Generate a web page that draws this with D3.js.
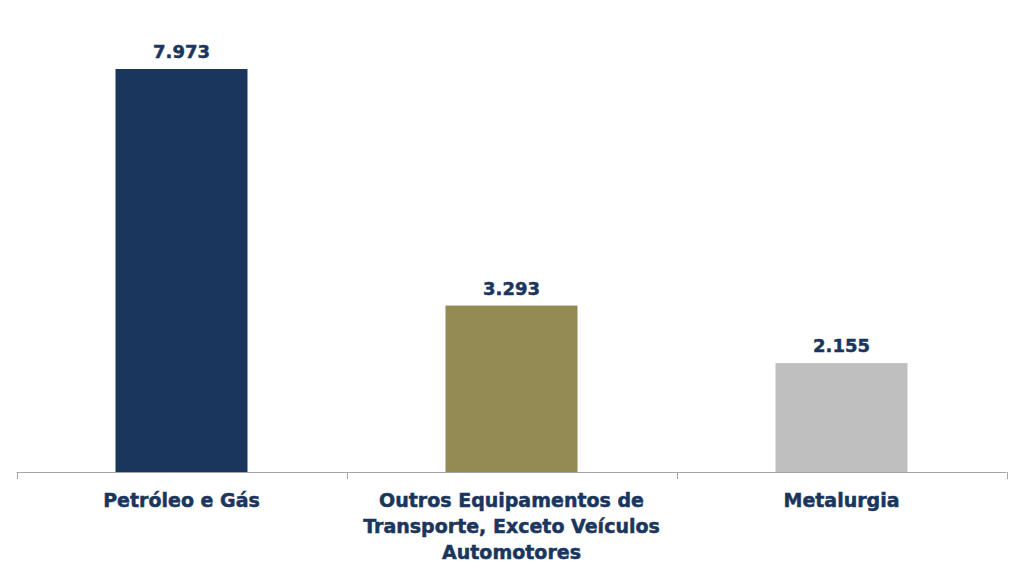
<!DOCTYPE html>
<html><head><meta charset="utf-8">
<script src="https://cdn.jsdelivr.net/npm/d3@7"></script>
<style>body{margin:0;background:#fff}svg{display:block}</style>
</head><body>
<svg id="c" width="1024" height="574"></svg>
<script>
const categories = ["Petróleo e Gás", "Outros Equipamentos de Transporte, Exceto Veículos Automotores", "Metalurgia"];
const categoryLines = [["Petróleo e Gás"], ["Outros Equipamentos de", "Transporte, Exceto Veículos", "Automotores"], ["Metalurgia"]];
const values = [7.973, 3.293, 2.155];
const valueLabels = ["7.973", "3.293", "2.155"];
const colors = ["#1b365d", "#948a54", "#bfbfbf"];

const svg = d3.select("#c");
const y0 = 472;
const x = d3.scaleBand().domain(categories).range([16.5, 1006.5]).paddingInner(0.6).paddingOuter(0.3);
const y = d3.scaleLinear().domain([0, 7.973]).range([y0, 69]);
const font = "Tahoma, 'DejaVu Sans', Verdana, sans-serif";
const textColor = "#1b365d";

svg.selectAll("rect.bar").data(values).join("rect")
  .attr("class","bar")
  .attr("x",(d,i)=>x(categories[i]))
  .attr("width",x.bandwidth())
  .attr("y",d=>y(d))
  .attr("height",d=>y0-y(d))
  .attr("fill",(d,i)=>colors[i]);

// axis
const axis = svg.append("g").attr("transform",`translate(0,${y0})`);
axis.append("line").attr("x1",16.5).attr("x2",1006.5).attr("y1",0.5).attr("y2",0.5).attr("stroke","#a6a6a6").attr("stroke-width",1);
const bounds = d3.range(categories.length+1).map(i=>16.5 + i*(1006.5-16.5)/categories.length);
axis.selectAll("line.tick").data(bounds).join("line").attr("class","tick")
  .attr("x1",d=>Math.round(d)+0.5).attr("x2",d=>Math.round(d)+0.5).attr("y1",0).attr("y2",7)
  .attr("stroke","#a6a6a6");

// value labels
svg.selectAll("text.val").data(values).join("text").attr("class","val")
  .attr("x",(d,i)=>x(categories[i])+x.bandwidth()/2)
  .attr("y",d=>y(d)-11)
  .attr("text-anchor","middle")
  .attr("font-family",font).attr("font-weight","bold").attr("font-size",18)
  .attr("fill",textColor).attr("stroke",textColor).attr("stroke-width",0.5)
  .text((d,i)=>valueLabels[i]);

// category labels
categoryLines.forEach((lines,i)=>{
  const cx = x(categories[i])+x.bandwidth()/2;
  const t = svg.append("text").attr("text-anchor","middle")
    .attr("font-family",font).attr("font-weight","bold").attr("font-size",19)
    .attr("fill",textColor).attr("stroke",textColor).attr("stroke-width",0.5);
  lines.forEach((l,j)=>{
    t.append("tspan").attr("x",cx).attr("y",507 + j*26).text(l);
  });
});
</script>
</body></html>
